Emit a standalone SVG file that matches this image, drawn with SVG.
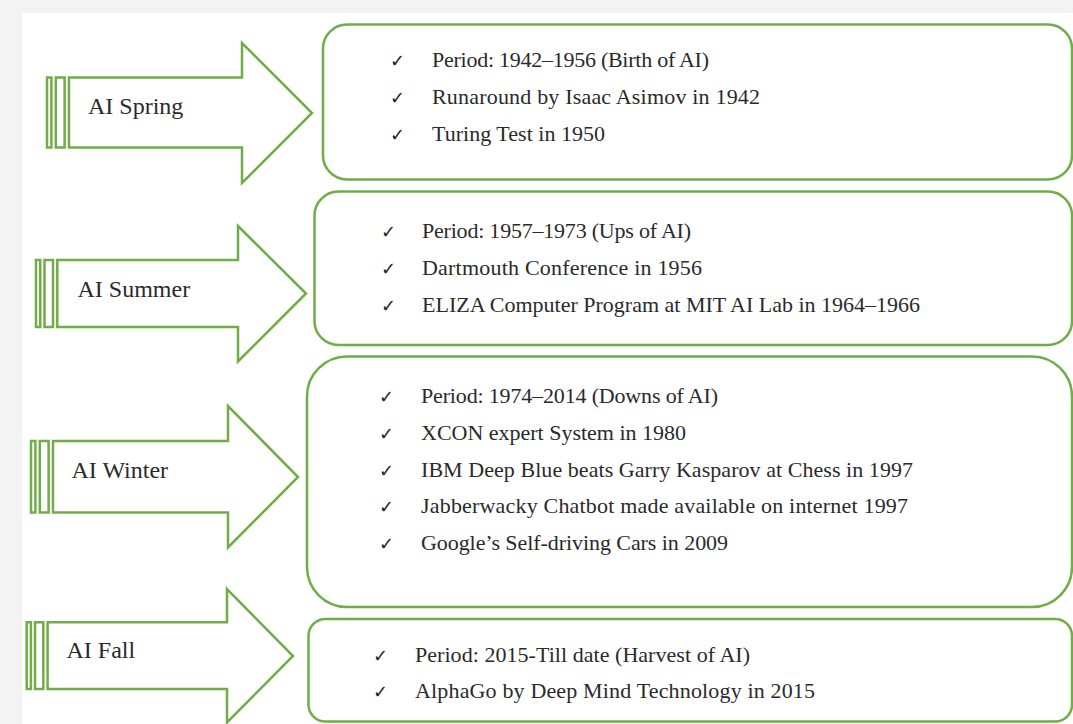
<svg xmlns="http://www.w3.org/2000/svg" width="1073" height="724" viewBox="0 0 1073 724">
<style>
.bg{fill:#f3f3f3}
.pane{fill:#ffffff}
.shape{fill:#ffffff;stroke:#70ad47;stroke-width:2.5;stroke-linejoin:miter}
.box{fill:#ffffff;stroke:#70ad47;stroke-width:2.5}
.lbl{font-family:"Liberation Serif","Times New Roman",serif;font-size:24px;fill:#2a2a2a}
.txt{font-family:"Liberation Serif","Times New Roman",serif;font-size:22px;fill:#2a2a2a}
.chk{font-family:"DejaVu Sans","Noto Sans",sans-serif;font-size:18px;fill:#222222}
</style>
<rect class="bg" x="0" y="0" width="1073" height="724"/>
<rect class="pane" x="22" y="13" width="1051" height="711"/>

<g id="connectors"></g>

<g id="arrow-spring">
  <rect class="shape" x="47" y="77.5" width="4.4" height="70"/>
  <rect class="shape" x="55.8" y="77.5" width="8.8" height="70"/>
  <path class="shape" d="M69,77.5 L242,77.5 L242,43 L312,113 L242,183 L242,147.5 L69,147.5 Z"/>
  <text class="lbl" x="88" y="114">AI Spring</text>
</g>
<g id="box-spring">
  <rect class="box" x="323" y="24.5" width="749" height="155" rx="24" ry="24"/>
  <text class="chk" x="390" y="67">✓</text>
  <text class="txt" x="432" y="67" textLength="277" lengthAdjust="spacing">Period: 1942–1956 (Birth of AI)</text>
  <text class="chk" x="390" y="104">✓</text>
  <text class="txt" x="432" y="104" textLength="328" lengthAdjust="spacing">Runaround by Isaac Asimov in 1942</text>
  <text class="chk" x="390" y="141">✓</text>
  <text class="txt" x="432" y="141" textLength="173" lengthAdjust="spacing">Turing Test in 1950</text>
</g>

<g id="arrow-summer">
  <rect class="shape" x="36" y="260" width="4.25" height="67"/>
  <rect class="shape" x="44.5" y="260" width="8.5" height="67"/>
  <path class="shape" d="M57.3,260 L238,260 L238,226 L306,293.5 L238,361.5 L238,327 L57.3,327 Z"/>
  <text class="lbl" x="77.5" y="297">AI Summer</text>
</g>
<g id="box-summer">
  <rect class="box" x="314.5" y="191.5" width="757.5" height="153.5" rx="24" ry="24"/>
  <text class="chk" x="381" y="238">✓</text>
  <text class="txt" x="422" y="238" textLength="269" lengthAdjust="spacing">Period: 1957–1973 (Ups of AI)</text>
  <text class="chk" x="381" y="275">✓</text>
  <text class="txt" x="422" y="275" textLength="280" lengthAdjust="spacing">Dartmouth Conference in 1956</text>
  <text class="chk" x="381" y="312">✓</text>
  <text class="txt" x="422" y="312" textLength="498" lengthAdjust="spacing">ELIZA Computer Program at MIT AI Lab in 1964–1966</text>
</g>

<g id="arrow-winter">
  <rect class="shape" x="31" y="441" width="4.4" height="71.5"/>
  <rect class="shape" x="39.8" y="441" width="8.8" height="71.5"/>
  <path class="shape" d="M53,441 L228,441 L228,406 L298,477 L228,547.5 L228,512.5 L53,512.5 Z"/>
  <text class="lbl" x="71.5" y="477.5">AI Winter</text>
</g>
<g id="box-winter">
  <rect class="box" x="307" y="356.5" width="765" height="250.5" rx="40" ry="40"/>
  <text class="chk" x="379" y="403">✓</text>
  <text class="txt" x="421" y="403" textLength="297" lengthAdjust="spacing">Period: 1974–2014 (Downs of AI)</text>
  <text class="chk" x="379" y="440">✓</text>
  <text class="txt" x="421" y="440" textLength="265" lengthAdjust="spacing">XCON expert System in 1980</text>
  <text class="chk" x="379" y="477">✓</text>
  <text class="txt" x="421" y="477" textLength="492" lengthAdjust="spacing">IBM Deep Blue beats Garry Kasparov at Chess in 1997</text>
  <text class="chk" x="379" y="513">✓</text>
  <text class="txt" x="421" y="513" textLength="487" lengthAdjust="spacing">Jabberwacky Chatbot made available on internet 1997</text>
  <text class="chk" x="379" y="550">✓</text>
  <text class="txt" x="421" y="550" textLength="307" lengthAdjust="spacing">Google’s Self-driving Cars in 2009</text>
</g>

<g id="arrow-fall">
  <rect class="shape" x="26.7" y="622.3" width="4.2" height="66.7"/>
  <rect class="shape" x="35" y="622.3" width="8.3" height="66.7"/>
  <path class="shape" d="M47.6,622.3 L227,622.3 L227,589 L293,656 L227,722.5 L227,689 L47.6,689 Z"/>
  <text class="lbl" x="66.5" y="658">AI Fall</text>
</g>
<g id="box-fall">
  <rect class="box" x="308.5" y="619" width="763.5" height="102.5" rx="17" ry="17"/>
  <text class="chk" x="373" y="662">✓</text>
  <text class="txt" x="415" y="662" textLength="335" lengthAdjust="spacing">Period: 2015-Till date (Harvest of AI)</text>
  <text class="chk" x="373" y="698">✓</text>
  <text class="txt" x="415" y="698" textLength="400" lengthAdjust="spacing">AlphaGo by Deep Mind Technology in 2015</text>
</g>
</svg>
